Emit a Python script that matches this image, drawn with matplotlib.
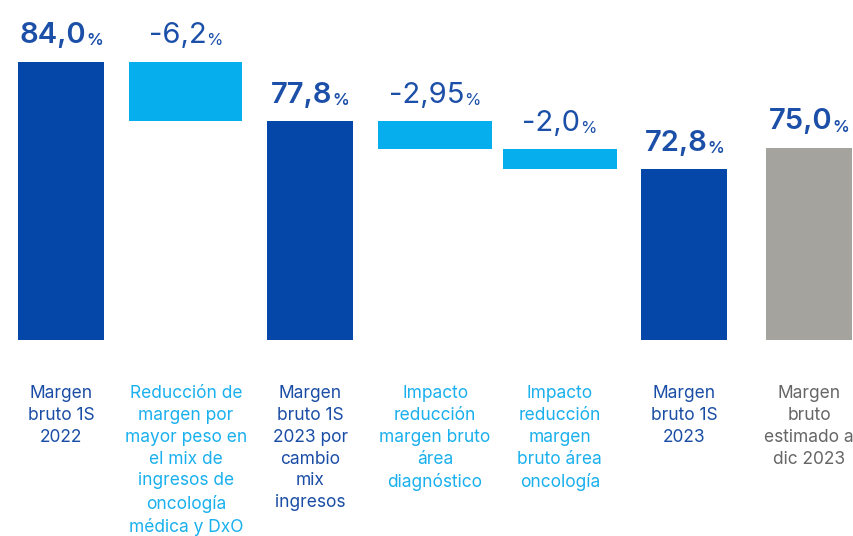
import matplotlib.pyplot as plt
from matplotlib.transforms import blended_transform_factory

plt.rcParams['font.family'] = ['Inter', 'DejaVu Sans']

categories = [
    'Margen\nbruto 1S\n2022',
    'Reducción de\nmargen por\nmayor peso en\nel mix de\ningresos de\noncología\nmédica y DxO',
    'Margen\nbruto 1S\n2023 por\ncambio\nmix\ningresos',
    'Impacto\nreducción\nmargen bruto\nárea\ndiagnóstico',
    'Impacto\nreducción\nmargen\nbruto área\noncología',
    'Margen\nbruto 1S\n2023',
    'Margen\nbruto\nestimado a\ndic 2023',
]
values = [84.0, -6.2, 77.8, -2.95, -2.0, 72.8, 75.0]
value_labels = ['84,0', '-6,2', '77,8', '-2,95', '-2,0', '72,8', '75,0']
kinds = ['total', 'delta', 'total', 'delta', 'delta', 'total', 'estimate']

DARK = '#0447A8'
LIGHT = '#06AEEE'
GREY = '#A4A39D'
VAL_TXT = '#1B4FA8'
bar_colors = {'total': DARK, 'delta': LIGHT, 'estimate': GREY}
txt_colors = {'total': '#1A4DA5', 'delta': '#1AB0EE', 'estimate': '#666666'}
bar_widths = {'total': 0.69, 'delta': 0.91, 'estimate': 0.69}

base = 55.0

fig = plt.figure(figsize=(8.54, 5.36), dpi=100)
ax = fig.add_axes([0, 0.3657, 1, 0.6343])
ax.set_xlim(-0.49, 6.36)
ax.set_ylim(base, base + 340 / 9.6)
ax.axis('off')

running = 0.0
trans = blended_transform_factory(ax.transData, ax.transAxes)
for i, (v, kind) in enumerate(zip(values, kinds)):
    if kind == 'delta':
        bottom = running + v
        height = -v
        running = bottom
    else:
        bottom = base
        height = v - base
        if kind == 'total':
            running = v
    ax.bar(i, height, bottom=bottom, width=bar_widths[kind],
           color=bar_colors[kind], linewidth=0)
    top = bottom + height

    weight = 'normal' if kind == 'delta' else 'semibold'
    num = ax.annotate(value_labels[i], xy=(i, top), xytext=(-6, 9),
                      textcoords='offset points', ha='center', va='bottom',
                      fontsize=21, fontweight=weight, color=VAL_TXT)
    ax.annotate('%', xy=(1, 0), xycoords=num, xytext=(0, 0.5),
                textcoords='offset points', ha='left', va='bottom',
                fontsize=12, fontweight=weight, color=VAL_TXT)

    ax.annotate(categories[i], xy=(i, 0), xycoords=trans, xytext=(0, -32.5),
                textcoords='offset points', ha='center', va='top',
                fontsize=12.5, linespacing=1.37, color=txt_colors[kind],
                annotation_clip=False)

fig.savefig('out.png', dpi=100)
